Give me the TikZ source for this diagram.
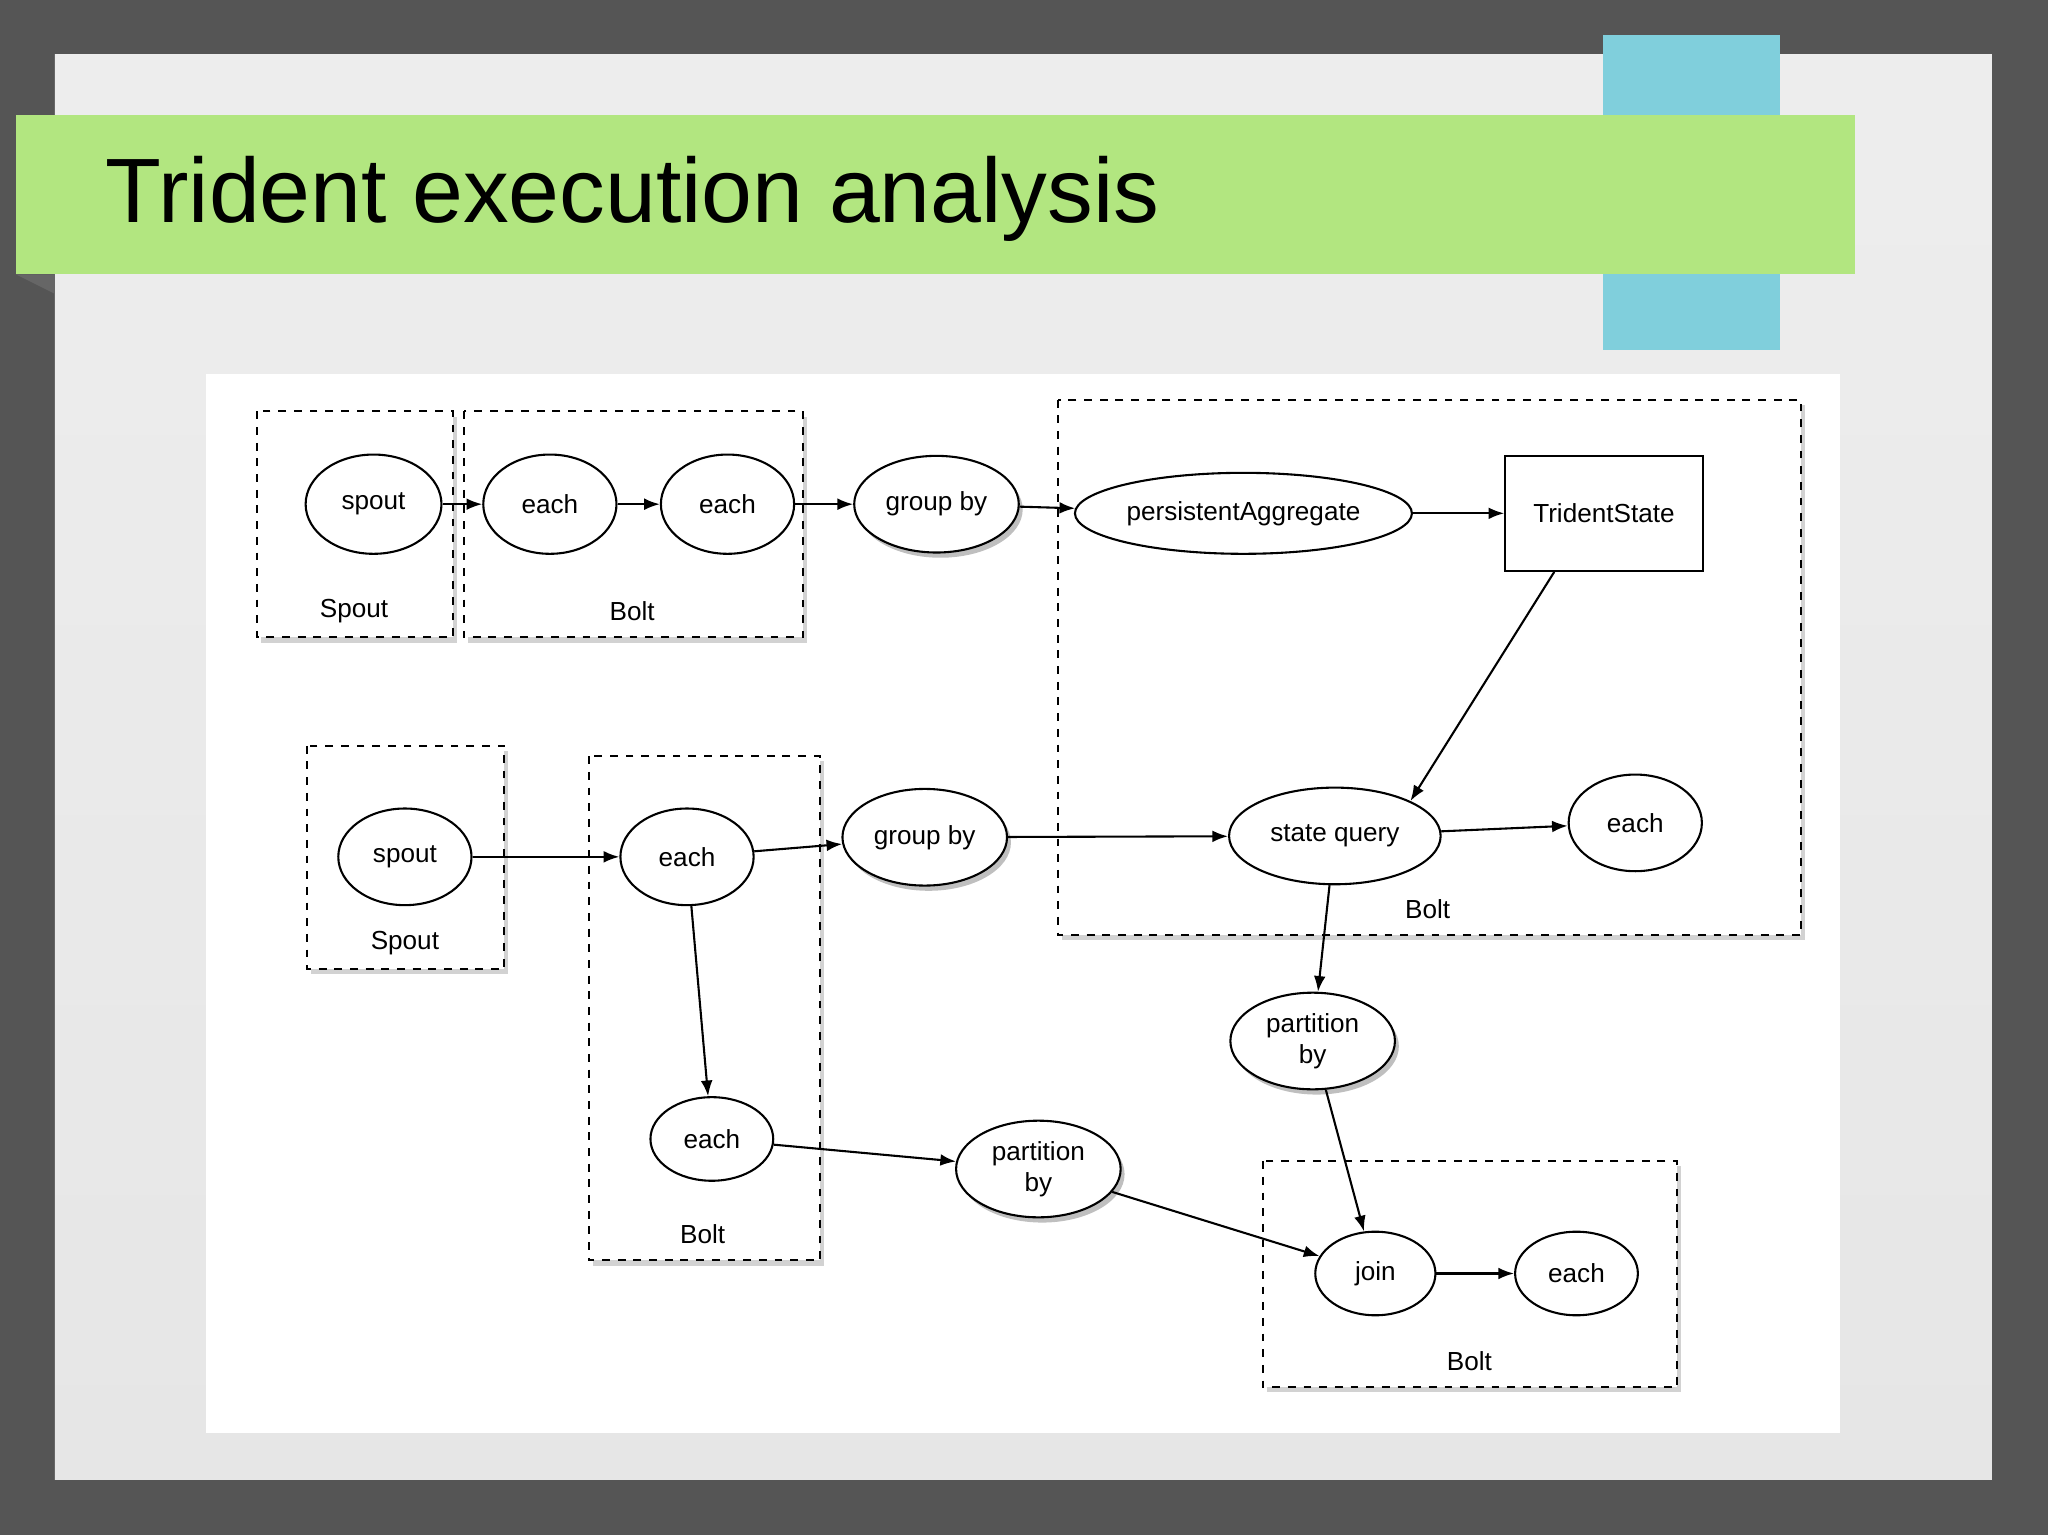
\documentclass[tikz,border=0pt]{standalone}
\usepackage{fontspec}
\setmainfont{Liberation Sans}
\usetikzlibrary{shapes.geometric,shadows,arrows.meta}
\definecolor{bgdark}{HTML}{555555}
\definecolor{slide}{HTML}{E6E6E6}
\definecolor{band}{HTML}{B2E680}
\definecolor{tealb}{HTML}{80CFDC}
\tikzset{
 ell/.style={ellipse,draw,thick,fill=white,inner sep=0pt,font=\fontsize{10}{11}\selectfont,align=center},
 sh/.style={drop shadow={shadow xshift=1.5pt,shadow yshift=-2pt,opacity=0.5}},
 box/.style={draw,thick,dashed,fill=white,drop shadow={shadow xshift=1.5pt,shadow yshift=-2pt,opacity=0.35}},
 lbl/.style={font=\fontsize{10}{11}\selectfont},
 arr/.style={-{Latex[length=6pt,width=4.5pt]},thick}
}
\begin{document}
\begin{tikzpicture}[x=0.5pt,y=-0.5pt]
\useasboundingbox (0,0) rectangle (1568,1175);
\fill[bgdark] (0,0) rectangle (1568,1175);
\shade[top color=slide!70!white,bottom color=slide] (42,42) rectangle (1525,1133);
\fill[tealb] (1227,27) rectangle (1363,268);
\fill[black!60] (12,210) -- (42,210) -- (42,225) -- cycle;
\fill[band] (12,88) rectangle (1420,210);
\node[anchor=west,font=\fontsize{35}{38}\selectfont] (title) at (74,152) {Trident execution analysis};
\fill[white] (158,286) rectangle (1409,1097);
% boxes
\draw[box] (197,315) rectangle (347,488);
\draw[box] (355,315) rectangle (615,488);
\draw[box] (810,306) rectangle (1379,716);
\draw[box] (235,571) rectangle (386,742);
\draw[box] (451,579) rectangle (628,965);
\draw[box] (967,889) rectangle (1284,1062);
\node[lbl] (l1) at (271,468) {Spout};
\node[lbl] (l2) at (484,468) {Bolt};
\node[lbl] (l3) at (310,722) {Spout};
\node[lbl] (l4) at (538,945) {Bolt};
\node[lbl] (l5) at (1093,696) {Bolt};
\node[lbl] (l6) at (1125,1042) {Bolt};
% nodes
\node[ell,minimum width=52pt,minimum height=38pt] (s1) at (286,386) {spout};
\node[ell,minimum width=51pt,minimum height=38pt] (e1) at (421,386) {each};
\node[ell,minimum width=51pt,minimum height=38pt] (e2) at (557,386) {each};
\node[ell,sh,minimum width=63pt,minimum height=37pt] (g1) at (717,386) {group by};
\node[ell,minimum width=129pt,minimum height=31pt] (pa) at (952,393) {persistentAggregate};
\node[draw,thick,fill=white,minimum width=75.5pt,minimum height=44pt,lbl] (ts) at (1228,393) {TridentState};
\node[ell,minimum width=81pt,minimum height=37pt] (sq) at (1022,640) {state query};
\node[ell,minimum width=51pt,minimum height=37pt] (e3) at (1252,630) {each};
\node[ell,minimum width=51pt,minimum height=37pt] (s2) at (310,656) {spout};
\node[ell,minimum width=51pt,minimum height=37pt] (e4) at (526,656) {each};
\node[ell,sh,minimum width=63pt,minimum height=37pt] (g2) at (708,641) {group by};
\node[ell,minimum width=47pt,minimum height=32pt] (e5) at (545,872) {each};
\node[ell,sh,minimum width=63pt,minimum height=37pt] (p1) at (1005,797) {partition\\[1pt]by};
\node[ell,sh,minimum width=63pt,minimum height=37pt] (p2) at (795,895) {partition\\[1pt]by};
\node[ell,minimum width=46pt,minimum height=32pt] (j) at (1053,975) {join};
\node[ell,minimum width=47pt,minimum height=32pt] (e6) at (1207,975) {each};
% edges
\draw[arr] (s1) -- (e1);
\draw[arr] (e1) -- (e2);
\draw[arr] (e2) -- (g1);
\draw[arr] (g1) -- (pa);
\draw[arr] (pa) -- (ts);
\draw[arr] (ts.south) ++(-38,0) coordinate (tsx) (tsx) -- (sq.north east);
\draw[arr] (sq) -- (e3);
\draw[arr] (s2) -- (e4);
\draw[arr] (e4) -- (g2);
\draw[arr] (g2) -- (sq);
\draw[arr] (e4) -- (e5);
\draw[arr] (e5) -- (p2);
\draw[arr] (sq) -- (p1);
\draw[arr] (p1) -- (j);
\draw[arr] (p2) -- (j);
\draw[arr] (j) -- (e6);
\end{tikzpicture}
\end{document}
